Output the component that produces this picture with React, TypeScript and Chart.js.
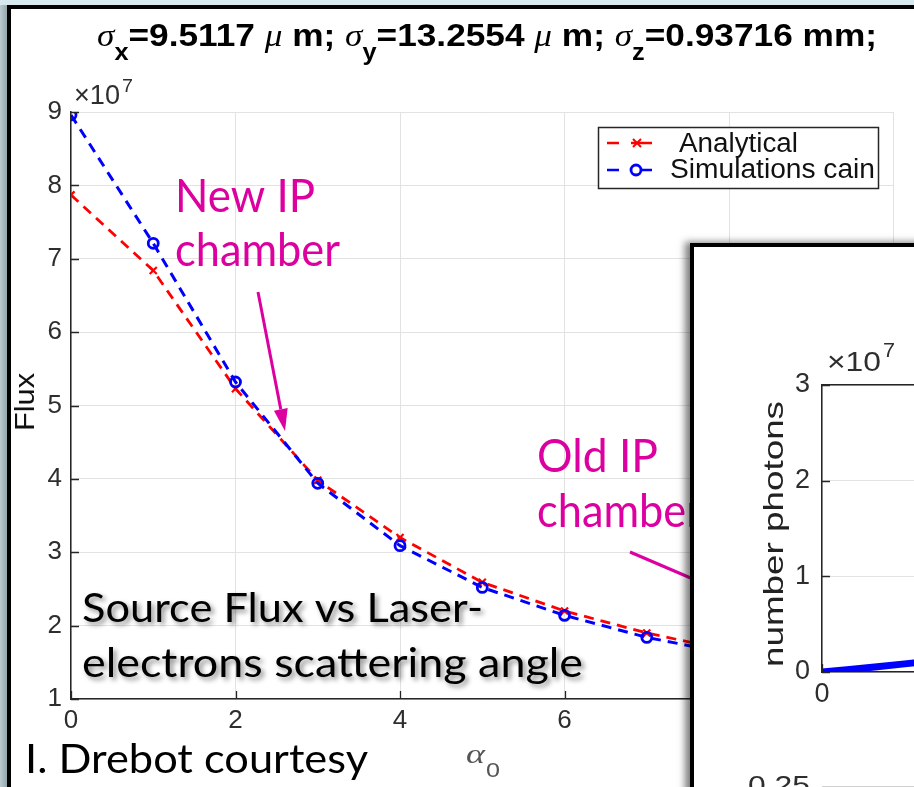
import React, { useEffect, useRef } from "react";
import { Chart, registerables } from "chart.js";

Chart.register(...registerables);

// ---- main chart data (Flux in units of 1e7) ----
const alphaValues = [0, 1, 2, 3, 4, 5, 6, 7, 8, 9, 10];
const analyticalFlux = [7.87, 6.84, 5.23, 3.98, 3.2, 2.59, 2.2, 1.9, 1.66, 1.48, 1.34];
const simulationFlux = [8.96, 7.21, 5.32, 3.94, 3.09, 2.52, 2.14, 1.84, 1.62, 1.44, 1.3];
const seriesNames = ["Analytical", "Simulations cain"];
const xTickStep = 2;
const yTickMin = 1;
const yTickMax = 9;

// ---- inset chart data (number photons in units of 1e7) ----
const insetAngle = [0, 0.5, 1, 1.5, 2];
const insetPhotons = [0.0, 0.025, 0.055, 0.085, 0.115];
const insetYMin = 0;
const insetYMax = 3;

const W = 914;
const H = 787;
const MAGENTA = "#dd00a0";
const TICK_COLOR = "#2e2e2e";
const AXIS_COLOR = "#262626";
const GRID_COLOR = "#e2e2e2";

function fitText(
  ctx: CanvasRenderingContext2D,
  text: string,
  x: number,
  y: number,
  width: number,
  font: string,
  color: string
) {
  ctx.save();
  ctx.font = font;
  const w = ctx.measureText(text).width;
  ctx.translate(x, y);
  ctx.scale(width / w, 1);
  ctx.fillStyle = color;
  ctx.textAlign = "left";
  ctx.textBaseline = "alphabetic";
  ctx.fillText(text, 0, 0);
  ctx.restore();
}

function rotatedText(
  ctx: CanvasRenderingContext2D,
  text: string,
  baselineX: number,
  centerY: number,
  width: number,
  font: string,
  color: string
) {
  ctx.save();
  ctx.font = font;
  const w = ctx.measureText(text).width;
  ctx.translate(baselineX, centerY);
  ctx.rotate(-Math.PI / 2);
  ctx.scale(width / w, 1);
  ctx.fillStyle = color;
  ctx.textAlign = "center";
  ctx.textBaseline = "alphabetic";
  ctx.fillText(text, 0, 0);
  ctx.restore();
}

function drawTitle(ctx: CanvasRenderingContext2D) {
  const main = "bold 32px 'Liberation Sans'";
  const greek = "italic 32px 'Liberation Serif'";
  const sub = "bold 23px 'Liberation Sans'";
  const parts: { t: string; f: string; dy: number }[] = [
    { t: "σ", f: greek, dy: 0 },
    { t: "x", f: sub, dy: 14 },
    { t: "=9.5117 ", f: main, dy: 0 },
    { t: "μ", f: greek, dy: 0 },
    { t: " m; ", f: main, dy: 0 },
    { t: "σ", f: greek, dy: 0 },
    { t: "y", f: sub, dy: 14 },
    { t: "=13.2554 ", f: main, dy: 0 },
    { t: "μ", f: greek, dy: 0 },
    { t: " m; ", f: main, dy: 0 },
    { t: "σ", f: greek, dy: 0 },
    { t: "z", f: sub, dy: 14 },
    { t: "=0.93716 mm;", f: main, dy: 0 },
  ];
  ctx.save();
  let total = 0;
  const widths = parts.map((p) => {
    ctx.font = p.f;
    const w = ctx.measureText(p.t).width;
    total += w;
    return w;
  });
  const x0 = 97;
  const targetW = 780;
  const baseline = 46;
  ctx.translate(x0, baseline);
  ctx.scale(targetW / total, 1);
  ctx.fillStyle = "#000";
  ctx.textBaseline = "alphabetic";
  let x = 0;
  parts.forEach((p, i) => {
    ctx.font = p.f;
    ctx.fillText(p.t, x, p.dy);
    x += widths[i];
  });
  ctx.restore();
}

function drawMarkerCross(ctx: CanvasRenderingContext2D, x: number, y: number, r: number) {
  ctx.beginPath();
  ctx.moveTo(x - r, y - r);
  ctx.lineTo(x + r, y + r);
  ctx.moveTo(x - r, y + r);
  ctx.lineTo(x + r, y - r);
  ctx.stroke();
}

function drawLegend(ctx: CanvasRenderingContext2D) {
  ctx.save();
  ctx.fillStyle = "#fff";
  ctx.fillRect(598, 127, 280, 61);
  ctx.strokeStyle = AXIS_COLOR;
  ctx.lineWidth = 1.5;
  ctx.strokeRect(598.5, 127.5, 280, 61);
  // red
  ctx.strokeStyle = "#ff0000";
  ctx.lineWidth = 2.6;
  ctx.beginPath();
  ctx.moveTo(607, 143);
  ctx.lineTo(619, 143);
  ctx.moveTo(631, 143);
  ctx.lineTo(652, 143);
  ctx.stroke();
  ctx.lineWidth = 2;
  drawMarkerCross(ctx, 637, 143, 4);
  // blue
  ctx.strokeStyle = "#0000ff";
  ctx.lineWidth = 2.6;
  ctx.beginPath();
  ctx.moveTo(607, 170);
  ctx.lineTo(619, 170);
  ctx.moveTo(641, 170);
  ctx.lineTo(652, 170);
  ctx.stroke();
  ctx.lineWidth = 2.8;
  ctx.beginPath();
  ctx.arc(636, 170, 5, 0, Math.PI * 2);
  ctx.stroke();
  ctx.restore();
  fitText(ctx, seriesNames[0], 679, 152, 119, "27px 'Liberation Sans'", "#111");
  fitText(ctx, seriesNames[1], 670, 178, 205, "27px 'Liberation Sans'", "#111");
}

function drawInsideTicks(chart: any, len: number) {
  const ctx = chart.ctx as CanvasRenderingContext2D;
  const { x, y } = chart.scales;
  const area = chart.chartArea;
  ctx.save();
  ctx.strokeStyle = AXIS_COLOR;
  ctx.lineWidth = 1.3;
  ctx.beginPath();
  x.ticks.forEach((t: any) => {
    const px = Math.round(x.getPixelForValue(t.value)) + 0.5;
    ctx.moveTo(px, area.bottom);
    ctx.lineTo(px, area.bottom - len);
  });
  y.ticks.forEach((t: any) => {
    const py = Math.round(y.getPixelForValue(t.value)) + 0.5;
    ctx.moveTo(area.left, py);
    ctx.lineTo(area.left + len, py);
  });
  ctx.stroke();
  ctx.restore();
}

const mainPlugin = {
  id: "mainDecor",
  beforeDraw(chart: any) {
    const ctx = chart.ctx as CanvasRenderingContext2D;
    ctx.save();
    ctx.fillStyle = "#ffffff";
    ctx.fillRect(0, 0, W, H);
    ctx.fillStyle = "#d6e9ef";
    ctx.fillRect(0, 0, W, 5);
    const g = ctx.createLinearGradient(0, 0, 7, 0);
    g.addColorStop(0, "#bccbd0");
    g.addColorStop(1, "#93a8af");
    ctx.fillStyle = g;
    ctx.fillRect(0, 5, 7, H - 5);
    ctx.fillStyle = "#000";
    ctx.fillRect(7, 5, W - 7, 4);
    ctx.fillRect(7, 5, 4, H - 5);
    ctx.restore();
  },
  afterDraw(chart: any) {
    const ctx = chart.ctx as CanvasRenderingContext2D;
    drawInsideTicks(chart, 8);
    drawTitle(ctx);
    // exponent label
    fitText(ctx, "×10", 74, 104, 46, "27px 'Liberation Sans'", TICK_COLOR);
    fitText(ctx, "7", 122, 92, 11, "19px 'Liberation Sans'", TICK_COLOR);
    // y title
    rotatedText(ctx, "Flux", 34, 402, 58, "27px 'Liberation Sans'", "#111");
    // x title alpha_0
    fitText(ctx, "α", 466, 763, 19, "italic 28px 'Liberation Serif'", "#555");
    fitText(ctx, "0", 486, 777, 14, "21px 'Liberation Sans'", "#555");
    drawLegend(ctx);

    // annotations
    const annFont = "47px Lato";
    fitText(ctx, "New IP", 175, 212, 140, annFont, MAGENTA);
    fitText(ctx, "chamber", 175, 266, 165, annFont, MAGENTA);
    fitText(ctx, "Old IP", 537, 472, 121, annFont, MAGENTA);
    fitText(ctx, "chamber", 537, 527, 165, annFont, MAGENTA);

    ctx.save();
    ctx.strokeStyle = MAGENTA;
    ctx.fillStyle = MAGENTA;
    ctx.lineWidth = 3;
    ctx.lineCap = "butt";
    // New IP arrow
    const sx = 258, sy = 292, tx = 285, ty = 431;
    const ang = Math.atan2(ty - sy, tx - sx);
    const hl = 22, hw = 7;
    const bx = tx - hl * Math.cos(ang), by = ty - hl * Math.sin(ang);
    ctx.beginPath();
    ctx.moveTo(sx, sy);
    ctx.lineTo(bx, by);
    ctx.stroke();
    ctx.beginPath();
    ctx.moveTo(tx, ty);
    ctx.lineTo(bx + hw * Math.sin(ang), by - hw * Math.cos(ang));
    ctx.lineTo(bx - hw * Math.sin(ang), by + hw * Math.cos(ang));
    ctx.closePath();
    ctx.fill();
    // Old IP line
    ctx.beginPath();
    ctx.moveTo(630, 552);
    ctx.lineTo(700, 582);
    ctx.stroke();
    ctx.restore();

    // caption texts
    ctx.save();
    ctx.shadowColor = "rgba(0,0,0,0.45)";
    ctx.shadowOffsetX = 3;
    ctx.shadowOffsetY = 3;
    ctx.shadowBlur = 5;
    fitText(ctx, "Source Flux vs Laser-", 82, 622, 401, "41px Lato", "#000");
    fitText(ctx, "electrons scattering angle", 82, 677, 501, "41px Lato", "#000");
    ctx.restore();
    fitText(ctx, "I. Drebot courtesy", 25, 773, 343, "41px Lato", "#000");
  },
};

const insetPlugin = {
  id: "insetDecor",
  beforeDraw(chart: any) {
    const ctx = chart.ctx as CanvasRenderingContext2D;
    ctx.save();
    ctx.fillStyle = "#fff";
    ctx.fillRect(0, 0, chart.width, chart.height);
    ctx.restore();
  },
  afterDraw(chart: any) {
    const ctx = chart.ctx as CanvasRenderingContext2D;
    drawInsideTicks(chart, 8);
    // offsets: canvas origin is at page (694, 247)
    const ox = 694, oy = 247;
    fitText(ctx, "×10", 827 - ox, 371 - oy, 54, "27px 'Liberation Sans'", TICK_COLOR);
    fitText(ctx, "7", 883 - ox, 357 - oy, 12, "20px 'Liberation Sans'", TICK_COLOR);
    rotatedText(ctx, "number photons", 783 - ox, 534 - oy, 266, "28px 'Liberation Sans'", "#222");
    fitText(ctx, "0.25", 748 - ox, 794 - oy, 62, "26px 'Liberation Sans'", TICK_COLOR);
    ctx.save();
    ctx.strokeStyle = "#d0d0d0";
    ctx.lineWidth = 1;
    ctx.beginPath();
    ctx.moveTo(822 - ox, 786.5 - oy);
    ctx.lineTo(chart.width, 786.5 - oy);
    ctx.stroke();
    ctx.restore();
  },
};

export default function App() {
  const mainRef = useRef<HTMLCanvasElement | null>(null);
  const insetRef = useRef<HTMLCanvasElement | null>(null);

  useEffect(() => {
    if (!mainRef.current || !insetRef.current) return;
    const tickFont = { family: "'Liberation Sans'", size: 26 };

    const main = new Chart(mainRef.current, {
      type: "line",
      data: {
        datasets: [
          {
            label: seriesNames[0],
            data: alphaValues.map((x, i) => ({ x, y: analyticalFlux[i] })),
            borderColor: "#ff0000",
            backgroundColor: "#ff0000",
            borderWidth: 2.8,
            borderDash: [10, 7],
            pointStyle: "crossRot",
            pointRadius: 5,
            pointBorderWidth: 2.2,
            pointBorderColor: "#ff0000",
            fill: false,
            tension: 0,
            order: 2,
          },
          {
            label: seriesNames[1],
            data: alphaValues.map((x, i) => ({ x, y: simulationFlux[i] })),
            borderColor: "#0000ff",
            backgroundColor: "rgba(0,0,0,0)",
            borderWidth: 3,
            borderDash: [10, 7],
            pointStyle: "circle",
            pointRadius: 5,
            pointBorderWidth: 2.8,
            pointBorderColor: "#0000ff",
            pointBackgroundColor: "rgba(0,0,0,0)",
            fill: false,
            tension: 0,
            order: 1,
          },
        ],
      },
      options: {
        animation: false,
        responsive: false,
        devicePixelRatio: 1,
        events: [],
        layout: { padding: { left: 0, top: 112, right: 17, bottom: 0 } },
        plugins: { legend: { display: false }, tooltip: { enabled: false }, title: { display: false } },
        scales: {
          x: {
            type: "linear",
            min: 0,
            max: 10,
            ticks: { stepSize: xTickStep, color: TICK_COLOR, font: tickFont, padding: 6 },
            grid: { color: GRID_COLOR, lineWidth: 1, drawTicks: false },
            border: { color: AXIS_COLOR, width: 1.5 },
            afterFit: (s: any) => {
              s.height = 88;
            },
          },
          y: {
            type: "linear",
            min: yTickMin,
            max: yTickMax,
            ticks: { stepSize: 1, color: TICK_COLOR, font: tickFont, padding: 9 },
            grid: { color: GRID_COLOR, lineWidth: 1, drawTicks: false },
            border: { color: AXIS_COLOR, width: 1.5 },
            afterFit: (s: any) => {
              s.width = 71;
            },
          },
        },
      },
      plugins: [mainPlugin],
    } as any);

    const inset = new Chart(insetRef.current, {
      type: "line",
      data: {
        datasets: [
          {
            label: "number photons",
            data: insetAngle.map((x, i) => ({ x, y: insetPhotons[i] })),
            borderColor: "#0000ff",
            borderWidth: 7,
            pointRadius: 0,
            fill: false,
            tension: 0,
          },
        ],
      },
      options: {
        animation: false,
        responsive: false,
        devicePixelRatio: 1,
        events: [],
        layout: { padding: { left: 0, top: 138, right: 20, bottom: 0 } },
        plugins: { legend: { display: false }, tooltip: { enabled: false } },
        scales: {
          x: {
            type: "linear",
            min: 0,
            max: 10,
            ticks: { stepSize: 5, color: TICK_COLOR, font: { family: "'Liberation Sans'", size: 27 }, padding: 6 },
            grid: { color: GRID_COLOR, drawTicks: false },
            border: { color: AXIS_COLOR, width: 1.5 },
            afterFit: (s: any) => {
              s.height = 135;
            },
          },
          x2: {
            type: "linear",
            position: "top",
            min: 0,
            max: 10,
            ticks: { display: false },
            grid: { display: false, drawTicks: false },
            border: { color: AXIS_COLOR, width: 1.5 },
            afterFit: (s: any) => {
              s.height = 0;
            },
          },
          y: {
            type: "linear",
            min: insetYMin,
            max: insetYMax,
            ticks: { stepSize: 1, color: TICK_COLOR, font: { family: "'Liberation Sans'", size: 27 }, padding: 12 },
            grid: { color: GRID_COLOR, drawTicks: false },
            border: { color: AXIS_COLOR, width: 1.5 },
            afterFit: (s: any) => {
              s.width = 128;
            },
          },
        },
      },
      plugins: [insetPlugin],
    } as any);

    return () => {
      main.destroy();
      inset.destroy();
    };
  }, []);

  return (
    <div
      style={{
        position: "fixed",
        left: 0,
        top: 0,
        width: W,
        height: H,
        overflow: "hidden",
        background: "#fff",
      }}
    >
      <canvas
        ref={mainRef}
        width={W}
        height={H}
        style={{ position: "absolute", left: 0, top: 0, width: W, height: H, display: "block" }}
      />
      <div
        style={{
          position: "absolute",
          left: 690,
          top: 243,
          width: 700,
          height: 560,
          borderLeft: "4px solid #000",
          borderTop: "4px solid #000",
          background: "#fff",
          boxShadow: "-5px -1px 7px rgba(0,0,0,0.5)",
        }}
      >
        <canvas
          ref={insetRef}
          width={700}
          height={560}
          style={{ position: "absolute", left: 0, top: 0, width: 700, height: 560, display: "block" }}
        />
      </div>
    </div>
  );
}
